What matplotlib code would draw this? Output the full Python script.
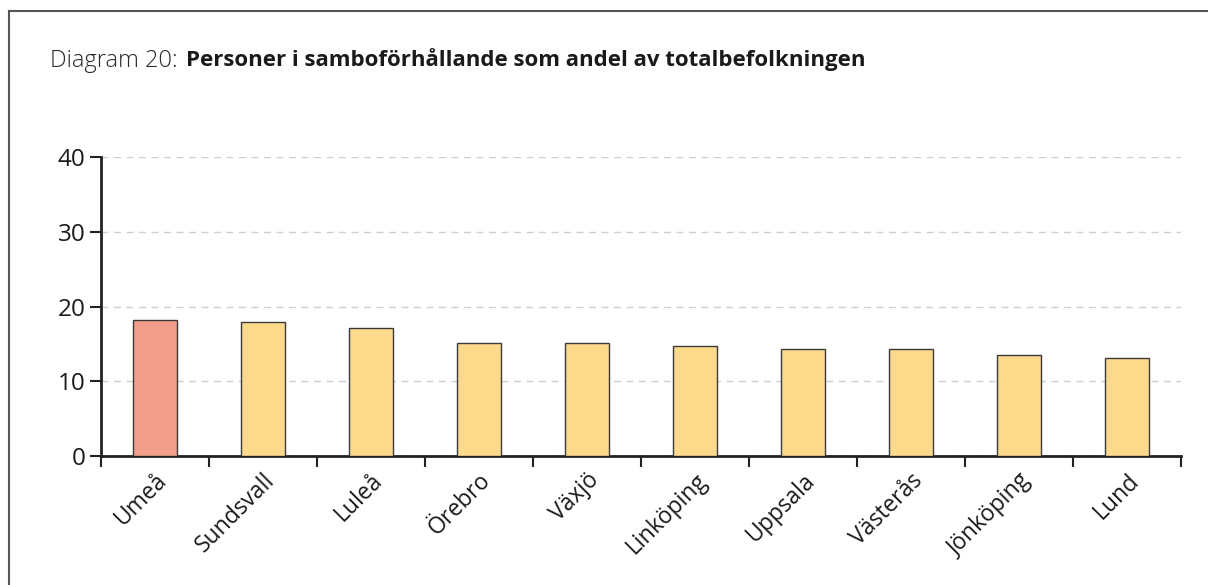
import matplotlib.pyplot as plt
from matplotlib.lines import Line2D
import numpy as np

plt.rcParams['font.family'] = ['Open Sans', 'DejaVu Sans']

cities = ["Umeå", "Sundsvall", "Luleå", "Örebro", "Växjö",
          "Linköping", "Uppsala", "Västerås", "Jönköping", "Lund"]
values = [18.2, 17.9, 17.1, 15.1, 15.1, 14.7, 14.3, 14.3, 13.5, 13.1]
colors = ["#F29E8A"] + ["#FDDA8B"] * 9

fig = plt.figure(figsize=(12.08, 5.85), dpi=100)
ax = fig.add_axes([101/1208, 1 - 456/585, 1080/1208, 299/585])

x = np.arange(len(cities))
ax.bar(x, values, width=0.4, color=colors, edgecolor="#3a3a3a", linewidth=1.0, zorder=3)

ax.set_xlim(-0.5, len(cities) - 0.5)
ax.set_ylim(0, 40)
ax.set_yticks([0, 10, 20, 30, 40])
ax.yaxis.grid(True, linestyle=(0, (5, 4)), color="#cfcfcf", linewidth=1)
ax.set_axisbelow(True)

# ticks between categories, labels at category centres
ax.set_xticks(np.arange(len(cities) + 1) - 0.5)
ax.set_xticklabels([])
ax.set_xticks(x, minor=True)
ax.set_xticklabels(cities, minor=True, rotation=45, ha="right", va="top",
                   rotation_mode="anchor", fontsize=16.5, color="#1a1a1a")
ax.tick_params(axis="x", which="minor", length=0, pad=9)
ax.tick_params(axis="x", which="major", length=8, width=1.5, color="#222222")
ax.tick_params(axis="y", length=8, width=1.5, color="#222222",
               labelsize=17.5, labelcolor="#1a1a1a", pad=3)

for s in ["top", "right"]:
    ax.spines[s].set_visible(False)
for s in ["left", "bottom"]:
    ax.spines[s].set_linewidth(2)
    ax.spines[s].set_color("#222222")

fig.text(50/1208, 1 - 61/585, "Diagram 20:", fontsize=17, color="#2a2a2a",
         fontweight="light", va="center", ha="left")
fig.text(186/1208, 1 - 60/585, "Personer i samboförhållande som andel av totalbefolkningen",
         fontsize=16, color="#1a1a1a", fontweight="bold", va="center", ha="left")

# outer frame (left and top edge)
fig.add_artist(Line2D([9/1208, 9/1208], [0, 1 - 11/585], color="#555555", linewidth=1.5,
                      transform=fig.transFigure))
fig.add_artist(Line2D([9/1208, 1], [1 - 11/585, 1 - 11/585], color="#555555", linewidth=1.5,
                      transform=fig.transFigure))

fig.savefig("out.png", dpi=100)
